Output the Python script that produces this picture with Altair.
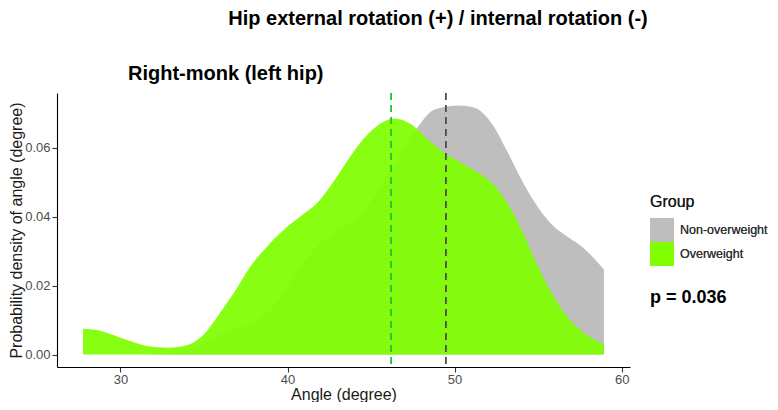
import altair as alt
import pandas as pd

# ---- data ----
groups = ["Non-overweight", "Overweight"]
group_colors = ["#BEBEBE", "#7FFF00"]

ow_angle = [27.76, 28.6, 30.0, 31.6, 32.8, 33.8, 35.0, 35.8, 36.8, 37.8, 38.8, 39.8,
            40.8, 41.8, 42.8, 43.8, 44.8, 45.8, 46.4, 47.4, 48.4, 49.4, 50.4, 51.4,
            52.4, 53.2, 54.0, 54.8, 55.8, 56.7, 57.7, 58.94]
ow_density = [0.0075, 0.0071, 0.0049, 0.0025, 0.0020, 0.0025, 0.0059, 0.0110, 0.0180,
              0.0257, 0.0315, 0.0363, 0.0402, 0.0441, 0.0505, 0.0578, 0.0639, 0.0677,
              0.0685, 0.0668, 0.0624, 0.0585, 0.0556, 0.0528, 0.0489, 0.0436, 0.0363,
              0.0276, 0.0180, 0.0112, 0.0064, 0.0030]

now_angle = [27.76, 30.0, 32.0, 33.8, 35.8, 37.8, 38.8, 39.8, 40.8, 41.8, 42.8, 43.8,
             44.8, 45.8, 46.8, 47.8, 48.8, 50.26, 51.2, 52.2, 53.2, 54.0, 54.8, 55.8,
             56.7, 57.7, 58.94]
now_density = [0.0, 0.0, 0.0001, 0.0010, 0.0054, 0.0093, 0.0122, 0.0180, 0.0257, 0.0315,
               0.0354, 0.0383, 0.0431, 0.0508, 0.0585, 0.0660, 0.0711, 0.0723, 0.0716,
               0.0672, 0.0585, 0.0508, 0.0441, 0.0378, 0.0344, 0.0310, 0.0247]

mean_angles = [49.48, 46.2]
mean_colors = ["#4D4D4D", "#22C232"]

x_ticks = [30, 40, 50, 60]
y_ticks = [0.0, 0.02, 0.04, 0.06]

main_title = "Hip external rotation (+) / internal rotation (-)"
sub_title = "Right-monk (left hip)"
p_label = "p = 0.036"

FONT = "Liberation Sans"

df_now = pd.DataFrame({"angle": now_angle, "density": now_density, "Group": groups[0]})
df_ow = pd.DataFrame({"angle": ow_angle, "density": ow_density, "Group": groups[1]})
df_mean = pd.DataFrame({"angle": mean_angles, "Group": groups, "col": mean_colors})

x_scale = alt.Scale(domain=[26.2, 60.5], nice=False, zero=False)
y_scale = alt.Scale(domain=[-0.0036, 0.0759], nice=False, zero=False)
color_scale = alt.Scale(domain=groups, range=group_colors)

x_enc = alt.X("angle:Q", scale=x_scale,
              axis=alt.Axis(values=x_ticks, title="Angle (degree)", format="d"))
y_enc = alt.Y("density:Q", scale=y_scale,
              axis=alt.Axis(values=y_ticks, title="Probability density of angle (degree)",
                            format=".2f"))
color_enc = alt.Color("Group:N", scale=color_scale,
                      legend=alt.Legend(title="Group", orient="none",
                                        legendX=593, legendY=101))

gray_area = alt.Chart(df_now).mark_area(interpolate="monotone", opacity=1).encode(
    x=x_enc, y=y_enc, y2=alt.datum(0), color=color_enc)

green_area = alt.Chart(df_ow).mark_area(interpolate="monotone", opacity=0.93).encode(
    x=x_enc, y=y_enc, y2=alt.datum(0), color=color_enc)

rules = alt.Chart(df_mean).mark_rule(strokeDash=[7, 5], strokeWidth=1.8).encode(
    x=alt.X("angle:Q", scale=x_scale),
    color=alt.Color("col:N", scale=None, legend=None))

title_mark = alt.Chart(pd.DataFrame({"t": [main_title]})).mark_text(
    font=FONT, fontSize=20, fontWeight="bold", color="#000000",
    align="center", baseline="alphabetic").encode(
    x=alt.value(381), y=alt.value(-68), text="t:N")

sub_mark = alt.Chart(pd.DataFrame({"t": [sub_title]})).mark_text(
    font=FONT, fontSize=20, fontWeight="bold", color="#000000",
    align="left", baseline="alphabetic").encode(
    x=alt.value(71), y=alt.value(-13), text="t:N")

p_mark = alt.Chart(pd.DataFrame({"t": [p_label]})).mark_text(
    font=FONT, fontSize=18, fontWeight="bold", color="#000000",
    align="left", baseline="alphabetic").encode(
    x=alt.value(593), y=alt.value(210), text="t:N")

chart = alt.layer(gray_area, green_area, rules, title_mark, sub_mark, p_mark).resolve_scale(
    color="independent"
).properties(
    width=573, height=274,
    autosize=alt.AutoSizeParams(type="none"),
    padding={"left": 49, "top": 85, "right": 140, "bottom": 35},
).configure_view(stroke=None).configure_axis(
    grid=False, domainColor="#000000", domainWidth=1.1, tickColor="#333333",
    tickSize=5, tickWidth=1.1, labelColor="#4D4D4D", labelFontSize=13, labelFont=FONT,
    titleFont=FONT, titleFontSize=16, titleFontWeight="normal", titleColor="#1A1A1A",
).configure_axisY(titlePadding=0, labelPadding=2).configure_axisX(
    titlePadding=0, labelPadding=1
).configure_legend(
    symbolType="square", symbolSize=576, symbolStrokeWidth=0, rowPadding=0,
    labelFontSize=12.5, labelFont=FONT, labelColor="#333333", labelOffset=6,
    titleFontSize=16, titleFont=FONT, titleFontWeight="normal", titleColor="#1A1A1A",
    titlePadding=8, symbolOpacity=1,
)

chart.save("out.html", embed_options={"renderer": "svg", "actions": False})
